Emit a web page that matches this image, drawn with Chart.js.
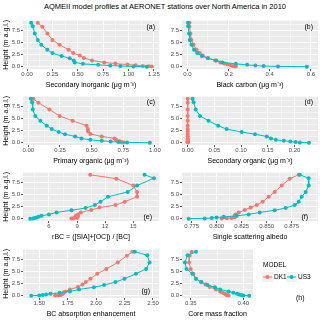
<!DOCTYPE html>
<html>
<head>
<meta charset="utf-8">
<script src="https://cdn.jsdelivr.net/npm/chart.js@4"></script>
<style>
  html, body { margin: 0; padding: 0; background: #fff; }
  #wrap { position: relative; width: 320px; height: 320px; overflow: hidden; }
  #title { position: absolute; left: 0; top: 2px; width: 330px; text-align: center;
           font: 7.5px "Liberation Sans", Arial, sans-serif; color: #000; }
  canvas { position: absolute; }
</style>
</head>
<body>
<div id="wrap">
  <div id="title">AQMEII model profiles at AERONET stations over North America in 2010</div>
</div>
<script>
// --- data ---
var models = ["DK1", "US3"];
var modelColors = ["#F8766D", "#00BFC4"];

var heightsDK1 = [9.0, 8.2, 6.8, 5.5, 4.5, 3.5, 2.8, 2.3, 1.8, 1.3, 0.9, 0.65, 0.45, 0.3, 0.18, 0.1, 0.04];
var heightsUS3 = [9.0, 8.3, 6.8, 5.5, 4.5, 3.5, 2.8, 2.2, 1.75, 1.3, 0.9, 0.6, 0.4, 0.25, 0.15, 0.08, 0.03];
var heightTicks = ["0.0", "2.5", "5.0", "7.5"];

var sinDK1 = [0.106, 0.15, 0.2, 0.25, 0.32, 0.41, 0.455, 0.52, 0.56, 0.64, 0.76, 0.87, 0.99, 1.07, 1.14, 1.2, 1.23];
var sinUS3 = [0.04, 0.056, 0.076, 0.106, 0.14, 0.2, 0.25, 0.34, 0.42, 0.46, 0.47, 0.55, 0.7, 0.82, 0.92, 1.05, 1.18];
var sinTicks = ["0.00", "0.25", "0.50", "0.75", "1.00", "1.25"];

var bcDK1 = [0.01, 0.01, 0.015, 0.02, 0.03, 0.045, 0.06, 0.075, 0.1, 0.135, 0.16, 0.18, 0.195, 0.21, 0.22, 0.23, 0.235];
var bcUS3 = [0.003, 0.004, 0.008, 0.012, 0.02, 0.032, 0.048, 0.07, 0.1, 0.14, 0.17, 0.235, 0.29, 0.33, 0.37, 0.44, 0.58];
var bcTicks = ["0.0", "0.2", "0.4", "0.6"];

var poDK1 = [0.04, 0.08, 0.167, 0.247, 0.35, 0.46, 0.47, 0.472, 0.49, 0.58, 0.68, 0.69, 0.70, 0.72, 0.73, 0.74, 0.755];
var poUS3 = [0.02, 0.03, 0.035, 0.055, 0.095, 0.145, 0.185, 0.24, 0.29, 0.37, 0.42, 0.49, 0.58, 0.65, 0.71, 0.78, 0.96];
var poTicks = ["0.00", "0.25", "0.50", "0.75", "1.00"];

var soDK1 = [0, 0, 0, 0, 0, 0, 0, 0, 0, 0, 0, 0, 0, 0, 0, 0, 0];
var soUS3 = [0.009, 0.011, 0.015, 0.023, 0.039, 0.057, 0.073, 0.101, 0.126, 0.148, 0.156, 0.165, 0.18, 0.192, 0.202, 0.21, 0.227];
var soTicks = ["0.00", "0.05", "0.10", "0.15", "0.20"];

var rbcDK1 = [10.4, 13.2, 15.0, 15.4, 15.4, 14.1, 13.1, 11.4, 10.5, 9.4, 9.1, 8.9, 9.1, 8.8, 9.0, 8.6, 8.4];
var rbcUS3 = [16.2, 17.2, 15.4, 14.4, 12.3, 11.5, 10.9, 9.9, 8.4, 6.8, 6.0, 5.2, 4.9, 4.7, 4.5, 4.3, 4.0];
var rbcTicks = ["6", "9", "12", "15"];

var ssaDK1 = [0.882, 0.873, 0.865, 0.858, 0.852, 0.846, 0.840, 0.834, 0.828, 0.822, 0.819, 0.818, 0.818, 0.818, 0.815, 0.81, 0.805];
var ssaUS3 = [0.883, 0.892, 0.892, 0.889, 0.885, 0.882, 0.878, 0.869, 0.858, 0.843, 0.832, 0.820, 0.807, 0.800, 0.795, 0.788, 0.772];
var ssaTicks = ["0.775", "0.800", "0.825", "0.850", "0.875"];

var babsDK1 = [2.32, 2.27, 2.19, 2.09, 2.01, 1.95, 1.91, 1.88, 1.84, 1.77, 1.73, 1.715, 1.71, 1.70, 1.69, 1.67, 1.64];
var babsUS3 = [2.34, 2.45, 2.47, 2.44, 2.35, 2.25, 2.17, 2.07, 1.98, 1.85, 1.77, 1.68, 1.60, 1.56, 1.53, 1.50, 1.43];
var babsTicks = ["1.50", "1.75", "2.00", "2.25", "2.50"];

var cmfDK1 = [0.351, 0.349, 0.3485, 0.35, 0.3525, 0.355, 0.36, 0.364, 0.368, 0.374, 0.378, 0.380, 0.382, 0.3835, 0.384, 0.385, 0.386];
var cmfUS3 = [0.355, 0.347, 0.3445, 0.346, 0.3515, 0.355, 0.36, 0.366, 0.373, 0.378, 0.386, 0.3905, 0.394, 0.396, 0.398, 0.400, 0.4055];
var cmfTicks = ["0.35", "0.40"];

// --- layout ---
var rowTops = [16, 92, 168, 245];
var plotH = 53;
var xAxisH = 20;
var colLefts = [23, 182];
var yAxisW = [23, 22];

var UNIT = " (\u03bcg m\u207b\u00b3)";
var panels = [
  { row: 0, col: 0, w: 136, xt: "Secondary inorganic" + UNIT, dk: sinDK1, us: sinUS3, ticks: sinTicks, min: -0.04, max: 1.30, tag: "(a)", tx: 4, ty: 6 },
  { row: 0, col: 1, w: 136, xt: "Black carbon" + UNIT, dk: bcDK1, us: bcUS3, ticks: bcTicks, min: -0.026, max: 0.634, tag: "(b)", tx: 5, ty: 6 },
  { row: 1, col: 0, w: 136, xt: "Primary organic" + UNIT, dk: poDK1, us: poUS3, ticks: poTicks, min: -0.042, max: 1.032, tag: "(c)", tx: 4, ty: 5 },
  { row: 1, col: 1, w: 136, xt: "Secondary organic" + UNIT, dk: soDK1, us: soUS3, ticks: soTicks, min: -0.0107, max: 0.244, tag: "(d)", tx: 5, ty: 5 },
  { row: 2, col: 0, w: 136, xt: "rBC = ([SIA]+[OC]) / [BC]", dk: rbcDK1, us: rbcUS3, ticks: rbcTicks, min: 3.23, max: 17.74, tag: "(e)", tx: 7, ty: -4 },
  { row: 2, col: 1, w: 136, xt: "Single scattering albedo", dk: ssaDK1, us: ssaUS3, ticks: ssaTicks, min: 0.7653, max: 0.9013, tag: "(f)", tx: 10, ty: -4 },
  { row: 3, col: 0, w: 136, xt: "BC absorption enhancement", dk: babsDK1, us: babsUS3, ticks: babsTicks, min: 1.357, max: 2.553, tag: "(g)", tx: 9, ty: -7 },
  { row: 3, col: 1, w: 71, xt: "Core mass fraction", dk: cmfDK1, us: cmfUS3, ticks: cmfTicks, min: 0.3417, max: 0.4092, tag: null, legend: true }
];

Chart.defaults.font.family = '"Liberation Sans", Arial, sans-serif';
Chart.defaults.color = "#4D4D4D";

function gridValues(majors, min, max) {
  var half = (majors[1] - majors[0]) / 2;
  var v = majors[0] - Math.ceil((majors[0] - min) / half) * half;
  var vals = [];
  for (; v <= max + 1e-9; v += half) {
    if (v >= min - 1e-9) vals.push(Math.round(v * 1e6) / 1e6);
  }
  return vals;
}

function axisConfig(labels, min, max, title, isY, size, showTitle) {
  var majors = labels.map(function (s) { return parseFloat(s); });
  var all = gridValues(majors, min, max);
  function majorIndex(v) {
    for (var i = 0; i < majors.length; i++) {
      if (Math.abs(v - majors[i]) < 1e-9) return i;
    }
    return -1;
  }
  function isMajor(ctx) { return ctx.tick && majorIndex(ctx.tick.value) >= 0; }
  return {
    type: "linear",
    position: isY ? "left" : "bottom",
    min: min,
    max: max,
    afterBuildTicks: function (scale) {
      scale.ticks = all.map(function (v) { return { value: v }; });
    },
    afterFit: function (scale) {
      if (isY) scale.width = size; else scale.height = size;
    },
    ticks: {
      autoSkip: false,
      maxRotation: 0,
      padding: isY ? 1 : 0,
      color: "#4D4D4D",
      font: { size: 6 },
      callback: function (value) {
        var i = majorIndex(value);
        return i >= 0 ? labels[i] : "";
      }
    },
    grid: {
      color: "#FFFFFF",
      lineWidth: function (ctx) { return isMajor(ctx) ? 0.9 : 0.45; },
      tickColor: function (ctx) { return isMajor(ctx) ? "#333333" : "rgba(0,0,0,0)"; },
      tickWidth: 0.8,
      tickLength: 2
    },
    border: { display: false },
    title: {
      display: showTitle,
      text: title,
      color: "#000000",
      font: { size: 7 },
      padding: { top: isY ? 2 : 0, bottom: 0 }
    }
  };
}

var plotBackground = {
  id: "plotBackground",
  beforeDraw: function (chart) {
    var a = chart.chartArea;
    var ctx = chart.ctx;
    ctx.save();
    ctx.fillStyle = "#EBEBEB";
    ctx.fillRect(a.left, a.top, a.right - a.left, a.bottom - a.top);
    ctx.restore();
  }
};

function seriesData(xs, hs) {
  return xs.map(function (x, i) { return { x: x, y: hs[i] }; });
}

function makePanel(p) {
  var wrap = document.getElementById("wrap");
  var canvas = document.createElement("canvas");
  var padR = p.legend ? 320 - (colLefts[p.col] + p.w) : 8;
  var left = colLefts[p.col] - yAxisW[p.col];
  var top = rowTops[p.row];
  var width = yAxisW[p.col] + p.w + padR;
  var height = plotH + xAxisH;
  canvas.width = width;
  canvas.height = height;
  canvas.style.left = left + "px";
  canvas.style.top = top + "px";
  canvas.style.width = width + "px";
  canvas.style.height = height + "px";
  wrap.appendChild(canvas);

  var tagPlugin = {
    id: "panelTag",
    afterDraw: function (chart) {
      var ctx = chart.ctx;
      var a = chart.chartArea;
      ctx.save();
      ctx.fillStyle = "#000000";
      ctx.font = '7px "Liberation Sans", Arial, sans-serif';
      ctx.textBaseline = "middle";
      if (p.tag) {
        ctx.textAlign = "right";
        var ty = p.ty > 0 ? a.top + p.ty : a.bottom + p.ty;
        ctx.fillText(p.tag, a.right - p.tx, ty);
      }
      if (p.legend) {
        var ds = chart.data.datasets;
        ctx.font = '6.5px "Liberation Sans", Arial, sans-serif';
        ctx.textAlign = "left";
        ctx.fillText("MODEL", 103, 20);
        var keyX = [102, 126];
        for (var i = 0; i < ds.length; i++) {
          var kx = keyX[i];
          ctx.fillStyle = "#F2F2F2";
          ctx.fillRect(kx, 27, 11, 10);
          ctx.strokeStyle = ds[i].borderColor;
          ctx.lineWidth = 1;
          ctx.beginPath();
          ctx.moveTo(kx + 1, 32);
          ctx.lineTo(kx + 10, 32);
          ctx.stroke();
          ctx.fillStyle = ds[i].backgroundColor;
          ctx.beginPath();
          ctx.arc(kx + 5.5, 32, 2, 0, Math.PI * 2);
          ctx.fill();
          ctx.fillStyle = "#000000";
          ctx.fillText(ds[i].label, kx + 12, 32);
        }
        ctx.font = '7px "Liberation Sans", Arial, sans-serif';
        ctx.fillText("(h)", 136, 53);
      }
      ctx.restore();
    }
  };

  function dataset(idx, xs, hs) {
    return {
      label: models[idx],
      data: seriesData(xs, hs),
      showLine: true,
      borderColor: modelColors[idx],
      backgroundColor: modelColors[idx],
      borderWidth: 1,
      pointRadius: 2,
      pointBorderWidth: 0,
      pointHoverRadius: 2,
      order: idx === 0 ? 2 : 1
    };
  }

  return new Chart(canvas, {
    type: "scatter",
    data: {
      datasets: [dataset(0, p.dk, heightsDK1), dataset(1, p.us, heightsUS3)]
    },
    options: {
      responsive: false,
      animation: false,
      devicePixelRatio: 1,
      layout: { padding: { left: 0, top: 0, right: padR, bottom: 0 } },
      plugins: { legend: { display: false }, tooltip: { enabled: false } },
      scales: {
        x: axisConfig(p.ticks, p.min, p.max, p.xt, false, xAxisH, true),
        y: axisConfig(heightTicks, -0.45, 9.45, "Height (m a.g.l.)", true, yAxisW[p.col], p.col === 0)
      }
    },
    plugins: [plotBackground, tagPlugin]
  });
}

panels.forEach(makePanel);
</script>
</body>
</html>
